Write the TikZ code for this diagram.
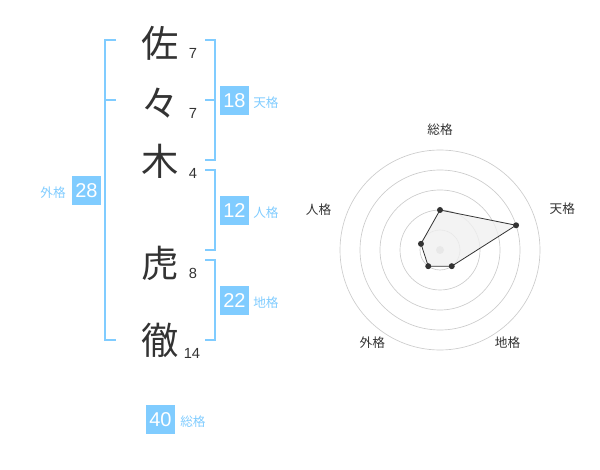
\documentclass[tikz,border=0pt]{standalone}
\usepackage{fontspec}
\setmainfont{Liberation Sans}
\newfontfamily\jp{Noto Sans CJK JP}
\definecolor{kakublue}{HTML}{80CCFF}
\definecolor{inkgray}{HTML}{333333}
\definecolor{ringgray}{HTML}{CCCCCC}
\definecolor{areagray}{HTML}{F0F0F0}
\begin{document}
\begin{tikzpicture}[x=0.75pt,y=-0.75pt,
    kanji/.style={text=inkgray,font=\jp\fontsize{28}{28}\selectfont,inner sep=0pt},
    strokes/.style={text=inkgray,font=\fontsize{11}{11}\selectfont,inner sep=0pt},
    kakubox/.style={fill=kakublue,text=white,minimum size=21.75pt,inner sep=0pt,
      font=\fontsize{15}{15}\selectfont},
    kakuname/.style={text=kakublue,font=\jp\fontsize{9.5}{9.5}\selectfont,inner sep=0pt},
    bracket/.style={draw=kakublue,line width=1.5pt},
    ring/.style={draw=ringgray,line width=0.5pt},
    axisname/.style={text=inkgray,font=\jp\fontsize{9.5}{9.5}\selectfont,inner sep=0pt}]
  \useasboundingbox (0,0) rectangle (600,470);
  % name characters and stroke counts:
  \node[kanji] (sa) at (160,43) {佐};
  \node[kanji] (noma) at (160,103) {々};
  \node[kanji] (ki) at (160,161) {木};
  \node[kanji] (tora) at (160,263) {虎};
  \node[kanji] (tetsu) at (160,340) {徹};
  \node[strokes] (n1) at (193,53) {7};
  \node[strokes] (n2) at (193,113) {7};
  \node[strokes] (n3) at (193,173) {4};
  \node[strokes] (n4) at (193,273) {8};
  \node[strokes] (n5) at (192,353) {14};
  % brackets:
  \draw[bracket] (205,40) -- (215,40) -- (215,160) -- (205,160);
  \draw[bracket] (205,100) -- (215,100);
  \draw[bracket] (205,170) -- (215,170) -- (215,250) -- (205,250);
  \draw[bracket] (205,260) -- (215,260) -- (215,340) -- (205,340);
  \draw[bracket] (116,40) -- (105,40) -- (105,340) -- (116,340);
  \draw[bracket] (105,100) -- (116,100);
  % totals:
  \node[kakubox] (ten) at (234.5,100.5) {18};
  \node[kakuname,anchor=west] (tenname) at (253,103) {天格};
  \node[kakubox] (jin) at (234.5,210.5) {12};
  \node[kakuname,anchor=west] (jinname) at (253,213) {人格};
  \node[kakubox] (chi) at (234.5,300.5) {22};
  \node[kakuname,anchor=west] (chiname) at (253,303) {地格};
  \node[kakubox] (gai) at (86.5,190.5) {28};
  \node[kakuname,anchor=east] (gainame) at (66,193) {外格};
  \node[kakubox] (sou) at (160.5,419.5) {40};
  \node[kakuname,anchor=west] (souname) at (180,422) {総格};
  % radar chart:
  \begin{scope}[shift={(440,250)},y=0.75pt]
    \foreach \r in {20,40,...,100}
      \draw[ring] (0,0) circle[radius=\r];
    \fill[ringgray] (0,0) circle[radius=4];
    \foreach \a/\r/\i in {90/40/1,18/80/2,-54/20/3,-126/20/4,162/20/5}
      \coordinate (v\i) at (\a:\r);
    \filldraw[fill=areagray,fill opacity=0.8,draw=inkgray,line width=0.6pt]
      (v1) -- (v2) -- (v3) -- (v4) -- (v5) -- cycle;
    \foreach \i in {1,...,5}
      \fill[inkgray] (v\i) circle[radius=3];
    \node[axisname] (ax1) at (90:120) {総格};
    \node[axisname] (ax2) at (18.5:129) {天格};
    \node[axisname] (ax3) at (-54:115) {地格};
    \node[axisname] (ax4) at (-126:115) {外格};
    \node[axisname] (ax5) at (161.5:128) {人格};
  \end{scope}
\end{tikzpicture}
\end{document}
